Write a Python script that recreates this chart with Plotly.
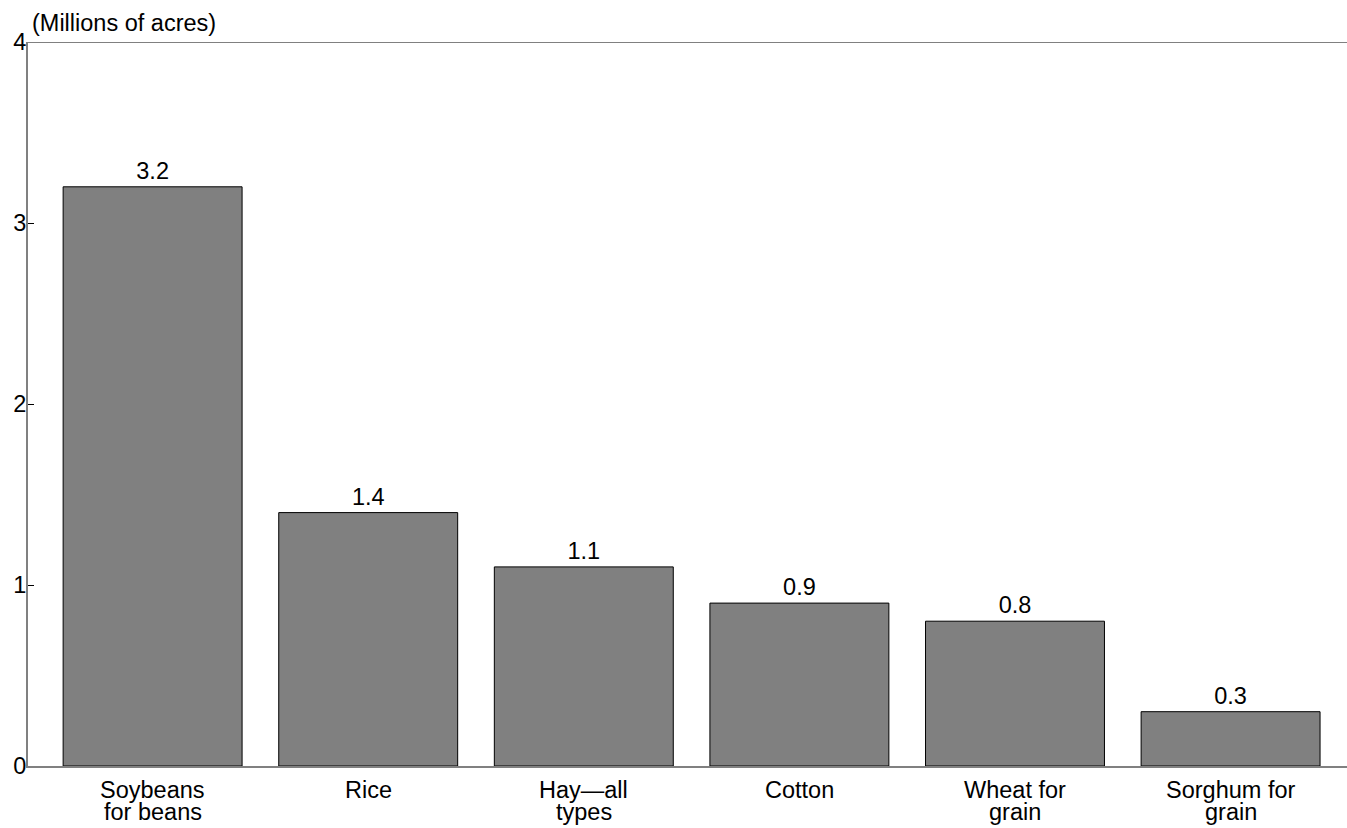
import plotly.graph_objects as go

# Category labels, one list per category (lines of the label)
categories = [
    ["Soybeans", "for beans"],
    ["Rice"],
    ["Hay—all", "types"],
    ["Cotton"],
    ["Wheat for", "grain"],
    ["Sorghum for", "grain"],
]
values = [3.2, 1.4, 1.1, 0.9, 0.8, 0.3]
value_labels = ["3.2", "1.4", "1.1", "0.9", "0.8", "0.3"]
y_ticks = [0, 1, 2, 3, 4]
y_title = "(Millions of acres)"

FONT = "Liberation Sans, Arial, sans-serif"
FS = 23.5
xpos = list(range(len(categories)))

fig = go.Figure()
fig.add_trace(go.Bar(
    x=xpos,
    y=values,
    width=0.83,
    marker=dict(color="#808080", line=dict(color="#000000", width=1)),
    text=value_labels,
    textposition="outside",
    textfont=dict(family=FONT, size=FS, color="#000000"),
    cliponaxis=False,
    hoverinfo="skip",
))

annotations = [dict(text=y_title, xref="paper", yref="paper", x=0, y=1,
                    xanchor="left", yanchor="middle", xshift=2, yshift=19,
                    showarrow=False,
                    font=dict(family=FONT, size=FS, color="#000000"))]
for i, lines in enumerate(categories):
    for j, line in enumerate(lines):
        annotations.append(dict(
            text=line, xref="x", yref="y", x=xpos[i], y=0,
            xanchor="center", yanchor="middle", yshift=-24 - 22 * j,
            showarrow=False,
            font=dict(family=FONT, size=FS, color="#000000")))

fig.update_layout(
    width=1347, height=828,
    margin=dict(l=28, r=0, t=42, b=62),
    paper_bgcolor="white", plot_bgcolor="white",
    showlegend=False,
    font=dict(family=FONT, size=FS, color="#000000"),
    xaxis=dict(
        range=[-0.578, 5.54],
        showticklabels=False,
        showgrid=False, zeroline=False,
        showline=True, linecolor="#808080", linewidth=2,
        ticks="", automargin=False,
    ),
    yaxis=dict(
        range=[0, 4],
        tickmode="array",
        tickvals=y_ticks,
        ticktext=[str(v) for v in y_ticks],
        showgrid=False, zeroline=False,
        showline=True, linecolor="#808080", linewidth=2,
        ticks="inside", ticklen=6, tickcolor="#000000", tickwidth=1,
        tickfont=dict(family=FONT, size=FS, color="#000000"),
        ticklabelstandoff=-5,
        automargin=False,
    ),
    shapes=[dict(type="line", xref="paper", yref="y", x0=0, x1=1, y0=4, y1=4,
                 line=dict(color="#808080", width=2))],
    annotations=annotations,
)

# remove the page's default body margin so the figure sits at the window's top-left
fig.write_html("out.html",
               config={"displayModeBar": False},
               post_script="document.body.style.margin='0';document.body.style.overflow='hidden';")
